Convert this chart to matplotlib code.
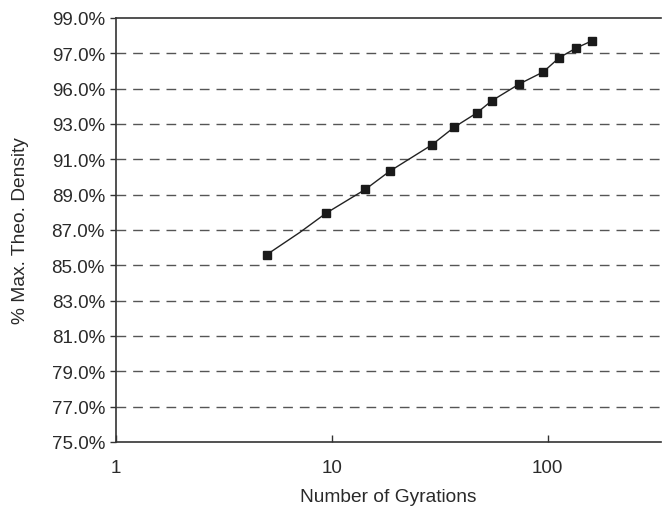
import matplotlib
matplotlib.use("Agg")
import matplotlib.pyplot as plt
import numpy as np

plt.rcParams['font.family'] = ['Liberation Sans', 'DejaVu Sans']

# Data
gyrations = [5, 7.1, 9.4, 14.3, 18.5, 29, 37, 47, 55, 74, 95.5, 113, 136, 160]
density = [85.61, 86.86, 87.95, 89.30, 90.32, 91.81, 92.83, 93.63, 94.31, 95.27, 95.95, 96.75, 97.31, 97.70]
marked = [0, 2, 3, 4, 5, 6, 7, 8, 9, 10, 11, 12, 13]

ytick_pos = [75, 77, 79, 81, 83, 85, 87, 89, 91, 93, 95, 97, 99]
ytick_labels = ["75.0%", "77.0%", "79.0%", "81.0%", "83.0%", "85.0%", "87.0%",
                "89.0%", "91.0%", "93.0%", "96.0%", "97.0%", "99.0%"]
xtick_pos = [1, 10, 100]
xtick_labels = ["1", "10", "100"]

fig = plt.figure(figsize=(6.62, 5.10), dpi=100)
ax = fig.add_axes([116/662, 67/510, (661-116)/662, (443-19)/510])

for y in ytick_pos[1:-1]:
    ax.axhline(y, color='#555555', linestyle=(0, (7, 5)), linewidth=1.0, zorder=1)

ax.plot(gyrations, density, color='#222222', linewidth=1.0, marker='s',
        markersize=6, markerfacecolor='#1a1a1a', markeredgecolor='#1a1a1a',
        markevery=marked, zorder=3)

ax.set_xscale('log')
ax.set_xlim(1, 335)
ax.set_ylim(75, 99)
ax.set_xticks(xtick_pos)
ax.set_xticklabels(xtick_labels)
ax.xaxis.set_minor_locator(matplotlib.ticker.NullLocator())
ax.set_yticks(ytick_pos)
ax.set_yticklabels(ytick_labels)

ax.tick_params(axis='x', direction='in', length=5, width=1, colors='#333333',
               labelcolor='#2a2a2a', labelsize=13.5, pad=12)
ax.tick_params(axis='y', direction='out', length=4, width=1, colors='#333333',
               labelcolor='#2a2a2a', labelsize=13.5, pad=4)

for s in ['left', 'bottom', 'top']:
    ax.spines[s].set_color('#333333')
    ax.spines[s].set_linewidth(1.2)
ax.spines['right'].set_visible(False)

ax.set_xlabel('Number of Gyrations', fontsize=13.8, color='#2a2a2a', labelpad=9)
ax.set_ylabel('% Max. Theo. Density', fontsize=13.8, color='#2a2a2a', labelpad=16)

fig.savefig('out.png', dpi=100)
